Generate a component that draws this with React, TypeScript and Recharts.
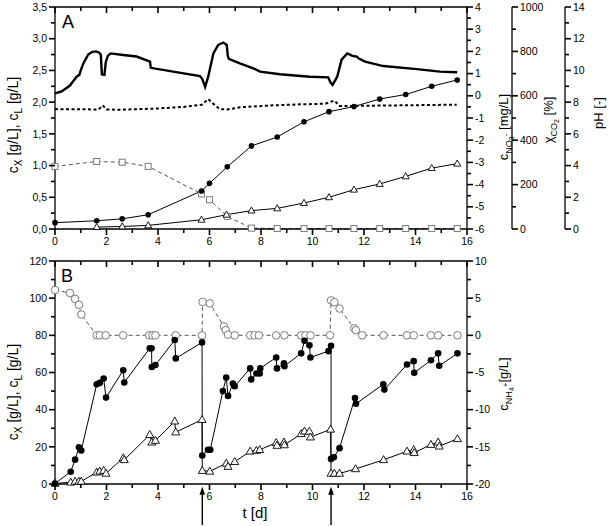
import React from 'react';
import { LineChart, Line, XAxis, YAxis, ReferenceLine } from 'recharts';

const FONT = "'Liberation Sans', Arial, sans-serif";
const GREY = '#7a7a7a';

// ---- panel A ----
const aBioT = [0, 1.62, 2.61, 3.62, 5.69, 6.0, 6.69, 7.63, 8.63, 9.67, 10.64, 11.61, 12.61, 13.62, 14.63, 15.62];
const aBio = [0.1, 0.13, 0.16, 0.225, 0.6, 0.72, 0.98, 1.31, 1.45, 1.69, 1.85, 1.93, 2.05, 2.12, 2.25, 2.35];
const aLipT = [1.62, 2.61, 3.62, 5.69, 6.66, 7.63, 8.63, 9.67, 10.64, 11.61, 12.61, 13.62, 14.63, 15.62];
const aLip = [0.03, 0.04, 0.057, 0.146, 0.225, 0.29, 0.325, 0.41, 0.5, 0.62, 0.71, 0.83, 0.96, 1.03];
const aNitT = [0, 1.62, 2.61, 3.62, 5.69, 6.0, 6.69, 7.63, 8.63, 9.67, 10.64, 11.61, 12.61, 13.62, 14.63, 15.62];
const aNit = [282, 304, 301, 282, 158, 132, 57, 4, 2, 2, 2, 2, 2, 2, 2, 2]; // mg/L
const aCo2T = [0, 0.26, 0.58, 0.84, 0.95, 1.0, 1.1, 1.29, 1.45, 1.6, 1.72, 1.78, 1.82, 1.92, 1.97, 2.05, 2.16, 2.65, 3.17, 3.69, 3.72, 4.59, 5.63, 5.72, 5.83, 5.95, 6.15, 6.34, 6.54, 6.67, 6.71, 6.75, 7.18, 7.7, 7.96, 8.74, 9.9, 10.61, 10.7, 10.78, 10.96, 11.13, 11.35, 11.55, 11.72, 11.8, 12.04, 12.75, 14.05, 14.95, 15.62];
const aCo2 = [0.11, 0.2, 0.46, 0.86, 0.95, 1.15, 1.46, 1.86, 1.98, 2.0, 1.94, 1.85, 0.96, 0.94, 1.5, 1.8, 1.91, 1.84, 1.77, 1.54, 1.26, 1.09, 0.89, 0.75, 0.4, 0.86, 1.91, 2.29, 2.4, 2.29, 1.8, 1.66, 1.46, 1.24, 1.09, 0.97, 0.86, 0.83, 0.6, 0.49, 0.86, 1.63, 1.91, 1.8, 1.77, 1.68, 1.54, 1.34, 1.2, 1.09, 1.06]; // %
const aPhT = [0, 1.7, 1.85, 2.0, 2.4, 4.0, 5.0, 5.7, 5.95, 6.15, 6.4, 6.7, 7.2, 8.5, 9.5, 10.5, 10.85, 11.05, 11.3, 12.5, 15.6];
const aPh = [7.56, 7.54, 7.8, 7.54, 7.52, 7.6, 7.7, 7.84, 8.2, 7.9, 7.55, 7.54, 7.68, 7.8, 7.86, 7.9, 8.1, 7.76, 7.76, 7.78, 7.84];

// ---- panel B ----
const bBioT = [0, 0.61, 0.78, 0.93, 1.02, 1.62, 1.74, 1.89, 1.98, 2.65, 2.69, 3.68, 3.75, 3.76, 3.9, 4.65, 4.69, 5.71, 5.72, 5.94, 6.03, 6.52, 6.65, 6.72, 6.91, 6.98, 7.58, 7.62, 7.82, 7.95, 7.97, 8.59, 8.62, 8.89, 8.91, 9.56, 9.69, 9.88, 9.92, 10.62, 10.72, 10.72, 10.83, 11.05, 11.65, 11.69, 12.75, 12.79, 13.67, 13.93, 13.95, 14.6, 14.88, 14.92, 15.63];
const bBio = [0.3, 6.6, 13.1, 19.8, 18.0, 53.7, 54.4, 56.8, 46.5, 61.2, 54.6, 73.0, 73.0, 63.0, 64.0, 77.5, 67.6, 76.2, 15.3, 18.4, 18.4, 50.0, 57.3, 47.4, 54.0, 52.6, 62.2, 56.3, 59.5, 59.5, 62.2, 68.1, 62.2, 64.9, 63.4, 70.3, 77.1, 74.6, 68.1, 71.5, 74.4, 13.5, 14.4, 19.3, 46.3, 43.2, 53.7, 50.8, 64.3, 66.1, 59.8, 66.6, 70.3, 63.6, 70.3];
const bLipT = [0, 0.61, 0.78, 0.93, 1.02, 1.62, 1.74, 1.89, 1.98, 2.65, 2.69, 3.68, 3.76, 3.9, 4.65, 4.69, 5.71, 5.72, 6.01, 6.65, 6.72, 6.98, 7.58, 7.82, 7.95, 8.59, 8.62, 8.89, 8.91, 9.56, 9.69, 9.88, 9.92, 10.7, 10.72, 10.85, 11.05, 11.67, 12.76, 13.67, 13.93, 13.95, 14.6, 14.88, 14.92, 15.63];
const bLip = [0.3, 0.9, 1.4, 1.4, 1.4, 6.3, 6.8, 7.2, 5.7, 14.0, 13.0, 26.5, 22.5, 23.4, 33.8, 27.9, 34.6, 7.2, 6.8, 11.1, 9.4, 12.0, 17.6, 18.0, 18.4, 22.2, 20.7, 22.5, 21.0, 27.0, 28.4, 28.3, 25.2, 29.4, 5.7, 5.7, 5.7, 8.1, 13.0, 17.6, 18.4, 16.8, 21.2, 22.5, 20.3, 24.3];
const bNhT = [0, 0.58, 0.78, 0.93, 1.02, 1.62, 1.74, 1.97, 2.65, 3.66, 3.79, 3.9, 4.69, 5.71, 5.73, 6.01, 6.56, 6.63, 6.72, 6.98, 7.58, 7.75, 7.92, 8.59, 8.91, 9.56, 9.73, 9.92, 10.68, 10.72, 10.85, 11.05, 11.62, 11.68, 11.93, 12.76, 13.67, 13.93, 14.6, 14.88, 15.63];
const bNh = [6.1, 5.7, 4.9, 4.1, 2.8, 0, 0, 0, 0, 0, 0, 0, 0, 0, 4.5, 4.3, 1.2, 0.7, 0.1, 0, 0, 0, 0, 0, 0, 0, 0, 0, 0, 4.7, 4.45, 3.6, 0.95, 0.7, 0, 0, 0, 0, 0, 0, 0];
const feedTimes = [5.72, 10.72];

// ---- ticks ----
const dayTicks = [0, 1, 2, 3, 4, 5, 6, 7, 8, 9, 10, 11, 12, 13, 14, 15, 16];
const aLeftTicks = [0, 0.25, 0.5, 0.75, 1, 1.25, 1.5, 1.75, 2, 2.25, 2.5, 2.75, 3, 3.25, 3.5];
const no3Ticks = [0, 100, 200, 300, 400, 500, 600, 700, 800, 900, 1000];
const co2Ticks = [-6, -5.5, -5, -4.5, -4, -3.5, -3, -2.5, -2, -1.5, -1, -0.5, 0, 0.5, 1, 1.5, 2, 2.5, 3, 3.5, 4];
const phTicks = [0, 1, 2, 3, 4, 5, 6, 7, 8, 9, 10, 11, 12, 13, 14];
const bLeftTicks = [0, 10, 20, 30, 40, 50, 60, 70, 80, 90, 100, 110, 120];
const nh4Ticks = [-20, -17.5, -15, -12.5, -10, -7.5, -5, -2.5, 0, 2.5, 5, 7.5, 10];

const pts = (t: number[], v: number[]) => t.map((x, i) => ({ t: x, v: v[i] }));
const comma = (v: number) => v.toFixed(1).replace('.', ',');
const isMult = (v: number, step: number) => Math.abs(v / step - Math.round(v / step)) < 1e-6;
const axisStyle = { stroke: '#000', strokeWidth: 1.3 };
const TW = 1.6; // tick stroke width
const MAJ = 6;
const MIN = 4;

type Side = 'left' | 'right' | 'bottom';
const makeTick = (side: Side, step: number, fmt: (v: number) => string = String) => (p: any) => {
  const { x, y, payload } = p;
  const v = payload.value as number;
  const major = isMult(v, step);
  const len = major ? MAJ : MIN;
  const label = major ? fmt(v) : '';
  const txt = { fontSize: 10.5, fontFamily: FONT, fill: '#000' };
  if (side === 'left')
    return (
      <g>
        <line x1={x} x2={x - len} y1={y} y2={y} stroke="#000" strokeWidth={TW} />
        <text x={x - 8} y={y} dy="0.35em" textAnchor="end" {...txt}>{label}</text>
      </g>
    );
  if (side === 'right')
    return (
      <g>
        <line x1={x} x2={x + len} y1={y} y2={y} stroke="#000" strokeWidth={TW} />
        <text x={x + 8} y={y} dy="0.35em" textAnchor="start" {...txt}>{label}</text>
      </g>
    );
  return (
    <g>
      <line x1={x} x2={x} y1={y} y2={y + len} stroke="#000" strokeWidth={TW} />
      <text x={x} y={y + 16} textAnchor="middle" {...txt}>{label}</text>
    </g>
  );
};

// inward tick on the top frame, drawn from a vertical reference line
const topTick = (major: boolean) => (p: any) => {
  const top = Math.min(p.y1, p.y2);
  return <line x1={p.x1} x2={p.x1} y1={top} y2={top + (major ? MAJ : MIN)} stroke="#000" strokeWidth={TW} />;
};

const sub = (t: string, size: number, dy: number) => (
  <tspan fontSize={size} dy={dy}>{t}</tspan>
);

const AxisTitle = ({ which }: { which: string }) => {
  const base = { fontFamily: FONT, fill: '#000', textAnchor: 'middle' as const };
  const rot = (x: number, y: number, size: number, body: React.ReactNode) => (
    <text x={x} y={y} transform={`rotate(-90 ${x} ${y})`} fontSize={size} {...base}>{body}</text>
  );
  switch (which) {
    case 'aLeft':
    case 'bLeft':
      return rot(18, which === 'aLeft' ? 125 : 142, 14, <>
        c{sub('X', 10, 4)}<tspan dy={-4}> [g/L], c</tspan>{sub('L', 10, 4)}<tspan dy={-4}> [g/L]</tspan>
      </>);
    case 'aNo3':
      return rot(508, 127, 13, <>
        c{sub('NO', 9, 4)}{sub('3', 7, 2)}{sub('-', 8, -6)}<tspan dy={0}> [mg/L]</tspan>
      </>);
    case 'aCo2':
      return rot(553, 120, 13, <>
        χ{sub('CO', 9, 4)}{sub('2', 7, 2)}<tspan dy={-6}> [%]</tspan>
      </>);
    case 'aPh':
      return rot(603, 113, 13, <>pH [-]</>);
    case 'bNh4':
      return rot(508, 134, 13, <>
        c{sub('NH', 9, 4)}{sub('4', 7, 2)}{sub('+', 8, -6)}<tspan dy={0}>[g/L]</tspan>
      </>);
    case 'aTag':
      return <text x={62} y={28} fontSize={18} fontFamily={FONT} fill="#000">A</text>;
    case 'bTag':
      return <text x={61} y={32} fontSize={18} fontFamily={FONT} fill="#000">B</text>;
    case 'bTime':
      return <text x={255} y={268} fontSize={15} {...base}>t [d]</text>;
    default:
      return null;
  }
};

const filled = (r: number) => (p: any) => (
  <circle key={`f${p.index}`} cx={p.cx} cy={p.cy} r={r} fill="#000" stroke="none" />
);
const openCircle = (r: number, col: string) => (p: any) => (
  <circle key={`o${p.index}`} cx={p.cx} cy={p.cy} r={r} fill="#fff" stroke={col} strokeWidth={1} />
);
const openTri = (s: number) => (p: any) => {
  const h = s * 0.87;
  const { cx, cy } = p;
  return (
    <path
      key={`t${p.index}`}
      d={`M${cx},${cy - h * 0.6} L${cx + s / 2},${cy + h * 0.4} L${cx - s / 2},${cy + h * 0.4} Z`}
      fill="#fff"
      stroke="#000"
      strokeWidth={0.9}
    />
  );
};
const openSq = (s: number) => (p: any) => (
  <rect key={`s${p.index}`} x={p.cx - s / 2} y={p.cy - s / 2} width={s} height={s} fill="#fff" stroke={GREY} strokeWidth={1} />
);

const Arrow = (p: any) => {
  const { x1, y1, y2 } = p;
  const top = Math.min(y1, y2);
  const bot = Math.max(y1, y2);
  return (
    <g>
      <line x1={x1} x2={x1} y1={top + 6} y2={bot} stroke="#000" strokeWidth={1.4} />
      <path d={`M${x1},${top} L${x1 - 2.8},${top + 8} L${x1 + 2.8},${top + 8} Z`} fill="#000" />
    </g>
  );
};

const frameTicks = () =>
  dayTicks.map((d) => (
    <ReferenceLine key={`ft${d}`} yAxisId="left" x={d} ifOverflow="visible" shape={topTick(d % 2 === 0)} />
  ));

export default function App() {
  return (
    <div style={{ position: 'absolute', left: 0, top: 0, width: 609, height: 526, background: '#fff' }}>
      <div style={{ position: 'absolute', left: 0, top: 0 }}>
        <LineChart width={609} height={250} margin={{ top: 6, right: 0, bottom: 0, left: 0 }}>
          <XAxis xAxisId="top" orientation="top" type="number" dataKey="t" domain={[0, 16]} ticks={dayTicks}
            height={1} tick={false} tickLine={false} axisLine={axisStyle} label={<AxisTitle which="aTag" />} />
          <XAxis type="number" dataKey="t" domain={[0, 16]} ticks={dayTicks} interval={0} height={21}
            tickSize={0} tickMargin={0} tickLine={false} tick={makeTick('bottom', 2)} axisLine={axisStyle} />
          <YAxis yAxisId="left" type="number" domain={[0, 3.5]} ticks={aLeftTicks} interval={0} width={55}
            tickSize={0} tickMargin={0} tickLine={false} tick={makeTick('left', 0.5, comma)} axisLine={axisStyle}
            label={<AxisTitle which="aLeft" />} />
          <YAxis yAxisId="no3" orientation="right" type="number" domain={[0, 1000]} ticks={no3Ticks} interval={0}
            width={53} tickSize={0} tickMargin={0} tickLine={false} tick={makeTick('right', 200)} axisLine={axisStyle}
            label={<AxisTitle which="aNo3" />} />
          <YAxis yAxisId="co2" orientation="right" type="number" domain={[-6, 4]} ticks={co2Ticks} interval={0}
            width={45} tickSize={0} tickMargin={0} tickLine={false} tick={makeTick('right', 1)} axisLine={axisStyle}
            label={<AxisTitle which="aCo2" />} />
          <YAxis yAxisId="ph" orientation="right" type="number" domain={[0, 14]} ticks={phTicks} interval={0}
            width={44} tickSize={0} tickMargin={0} tickLine={false} tick={makeTick('right', 2)} axisLine={axisStyle}
            label={<AxisTitle which="aPh" />} />
          {frameTicks()}
          <Line yAxisId="no3" data={pts(aNitT, aNit)} dataKey="v" stroke="#555" strokeWidth={1}
            strokeDasharray="4 3" dot={openSq(6)} activeDot={false} isAnimationActive={false} />
          <Line yAxisId="co2" data={pts(aCo2T, aCo2)} dataKey="v" stroke="#000" strokeWidth={2.4}
            dot={false} activeDot={false} isAnimationActive={false} />
          <Line yAxisId="ph" data={pts(aPhT, aPh)} dataKey="v" stroke="#000" strokeWidth={2}
            strokeDasharray="3 2.5" dot={false} activeDot={false} isAnimationActive={false} />
          <Line yAxisId="left" data={pts(aLipT, aLip)} dataKey="v" stroke="#000" strokeWidth={1}
            dot={openTri(7)} activeDot={false} isAnimationActive={false} />
          <Line yAxisId="left" data={pts(aBioT, aBio)} dataKey="v" stroke="#000" strokeWidth={1}
            dot={filled(2.8)} activeDot={false} isAnimationActive={false} />
        </LineChart>
      </div>
      <div style={{ position: 'absolute', left: 0, top: 250 }}>
        <LineChart width={609} height={276} margin={{ top: 10, right: 0, bottom: 0, left: 0 }} style={{ overflow: 'visible' }}>
          <XAxis xAxisId="top" orientation="top" type="number" dataKey="t" domain={[0, 16]} ticks={dayTicks}
            height={1} tick={false} tickLine={false} axisLine={axisStyle} label={<AxisTitle which="bTag" />} />
          <XAxis type="number" dataKey="t" domain={[0, 16]} ticks={dayTicks} interval={0} height={42}
            tickSize={0} tickMargin={0} tickLine={false} tick={makeTick('bottom', 2)} axisLine={axisStyle}
            label={<AxisTitle which="bTime" />} />
          <YAxis yAxisId="left" type="number" domain={[0, 120]} ticks={bLeftTicks} interval={0} width={55}
            tickSize={0} tickMargin={0} tickLine={false} tick={makeTick('left', 20)} axisLine={axisStyle}
            label={<AxisTitle which="bLeft" />} />
          <YAxis yAxisId="nh4" orientation="right" type="number" domain={[-20, 10]} ticks={nh4Ticks} interval={0}
            width={142} tickSize={0} tickMargin={0} tickLine={false} tick={makeTick('right', 5)} axisLine={axisStyle}
            label={<AxisTitle which="bNh4" />} />
          {frameTicks()}
          <Line yAxisId="nh4" data={pts(bNhT, bNh)} dataKey="v" stroke="#555" strokeWidth={1}
            strokeDasharray="4 3" dot={openCircle(3.8, GREY)} activeDot={false} isAnimationActive={false} />
          <Line yAxisId="left" data={pts(bLipT, bLip)} dataKey="v" stroke="#000" strokeWidth={1}
            dot={openTri(8)} activeDot={false} isAnimationActive={false} />
          <Line yAxisId="left" data={pts(bBioT, bBio)} dataKey="v" stroke="#000" strokeWidth={1}
            dot={filled(3.3)} activeDot={false} isAnimationActive={false} />
          {feedTimes.map((ft) => (
            <ReferenceLine key={ft} yAxisId="left" ifOverflow="visible"
              segment={[{ x: ft, y: -1.5 }, { x: ft, y: -22 }]} shape={Arrow} />
          ))}
        </LineChart>
      </div>
    </div>
  );
}
